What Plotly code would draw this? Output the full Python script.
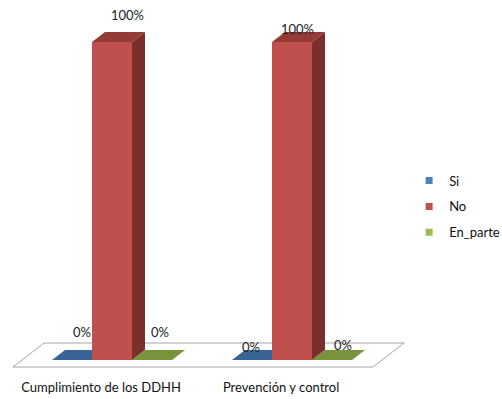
import plotly.graph_objects as go

# ---- data ----
categories = ["Cumplimiento de los DDHH", "Prevención y control"]
series_names = ["Si", "No", "En_parte"]
si_values = [0.0, 0.0]
no_values = [1.0, 1.0]
en_parte_values = [0.0, 0.0]
series_values = [si_values, no_values, en_parte_values]

# ---- style ----
W, H = 502, 399
PX_X = 180.0          # pixels per category step
PX_Y = 318.0          # pixels per 100 %
BOTTOM = 378          # plot-area bottom in px
ZERO_PX = 360         # pixel row of value 0
BAR_W = 40 / PX_X
DX = 1.3 / PX_X       # depth shift per depth-pixel (x)
DY = 1.0 / PX_Y       # depth shift per depth-pixel (y)
BAR_DEPTH = 10
FLOOR_D0, FLOOR_D1 = -7, 17

front_col = ["#4F81BD", "#C0504D", "#9BBB59"]
side_col = ["#2C4D75", "#7B2F2D", "#5F7530"]
top_col = ["#3A6496", "#943A37", "#77933C"]

# label offsets (px) per series per category
lbl_dx = [[10, -1], [15, 5], [8, 11]]
lbl_dy = [[28, 13], [27, 13], [28, 15]]

xmin = -112 / PX_X
xmax = xmin + W / PX_X
ymin = -(BOTTOM - ZERO_PX) / PX_Y
ymax = ZERO_PX / PX_Y


def proj(x, y, d):
    return x + d * DX, y + d * DY


fig = go.Figure()

# floor
fx0, fx1 = -0.5, len(categories) - 0.5
pts = [proj(fx0, 0, FLOOR_D0), proj(fx1, 0, FLOOR_D0), proj(fx1, 0, FLOOR_D1),
       proj(fx0, 0, FLOOR_D1), proj(fx0, 0, FLOOR_D0)]
fig.add_trace(go.Scatter(x=[p[0] for p in pts], y=[p[1] for p in pts], mode="lines",
                         fill="toself", fillcolor="white",
                         line=dict(color="#A6A6A6", width=1), showlegend=False,
                         hoverinfo="skip"))

n = len(series_names)
for ci in range(len(categories)):
    for si in range(n):
        v = series_values[si][ci]
        x0 = ci + (si - n / 2) * BAR_W
        x1 = x0 + BAR_W
        # front face
        if v > 0:
            p = [proj(x0, 0, 0), proj(x1, 0, 0), proj(x1, v, 0), proj(x0, v, 0), proj(x0, 0, 0)]
            fig.add_trace(go.Scatter(x=[q[0] for q in p], y=[q[1] for q in p], mode="lines",
                                     fill="toself", fillcolor=front_col[si],
                                     line=dict(width=0, color=front_col[si]),
                                     showlegend=False, hoverinfo="skip"))
            # side face
            p = [proj(x1, 0, 0), proj(x1, 0, BAR_DEPTH), proj(x1, v, BAR_DEPTH), proj(x1, v, 0), proj(x1, 0, 0)]
            fig.add_trace(go.Scatter(x=[q[0] for q in p], y=[q[1] for q in p], mode="lines",
                                     fill="toself", fillcolor=side_col[si],
                                     line=dict(width=0, color=side_col[si]),
                                     showlegend=False, hoverinfo="skip"))
        # top face
        p = [proj(x0, v, 0), proj(x1, v, 0), proj(x1, v, BAR_DEPTH), proj(x0, v, BAR_DEPTH), proj(x0, v, 0)]
        fig.add_trace(go.Scatter(x=[q[0] for q in p], y=[q[1] for q in p], mode="lines",
                                 fill="toself", fillcolor=top_col[si],
                                 line=dict(width=0, color=top_col[si]),
                                 showlegend=False, hoverinfo="skip"))
        # value label
        fig.add_annotation(x=(x0 + x1) / 2, y=v, text=f"{v * 100:.0f}%", showarrow=False,
                           xshift=lbl_dx[si][ci], yshift=lbl_dy[si][ci],
                           font=dict(family="Lato", size=13, color="#222222"))

# legend entries
for si in range(n):
    fig.add_trace(go.Scatter(x=[None], y=[None], mode="markers", name=series_names[si],
                             legendgroup=series_names[si],
                             marker=dict(symbol="square", size=7, color=front_col[si])))

fig.update_layout(
    width=W, height=H,
    margin=dict(l=0, r=0, t=0, b=H - BOTTOM, autoexpand=False),
    paper_bgcolor="white", plot_bgcolor="white",
    font=dict(family="Lato", size=13, color="#111111"),
    xaxis=dict(range=[xmin, xmax], showgrid=False, zeroline=False, showline=False,
               tickvals=[i + FLOOR_D0 * DX * 1.2 for i in range(len(categories))],
               ticktext=categories, ticks="", fixedrange=True),
    yaxis=dict(range=[ymin, ymax], showgrid=False, zeroline=False, showline=False,
               showticklabels=False, fixedrange=True),
    legend=dict(x=0.815, y=0.562, xanchor="left", yanchor="top", tracegroupgap=6,
                font=dict(size=13), itemwidth=30, bgcolor="rgba(0,0,0,0)"),
    showlegend=True,
)

fig.write_html("out.html")
